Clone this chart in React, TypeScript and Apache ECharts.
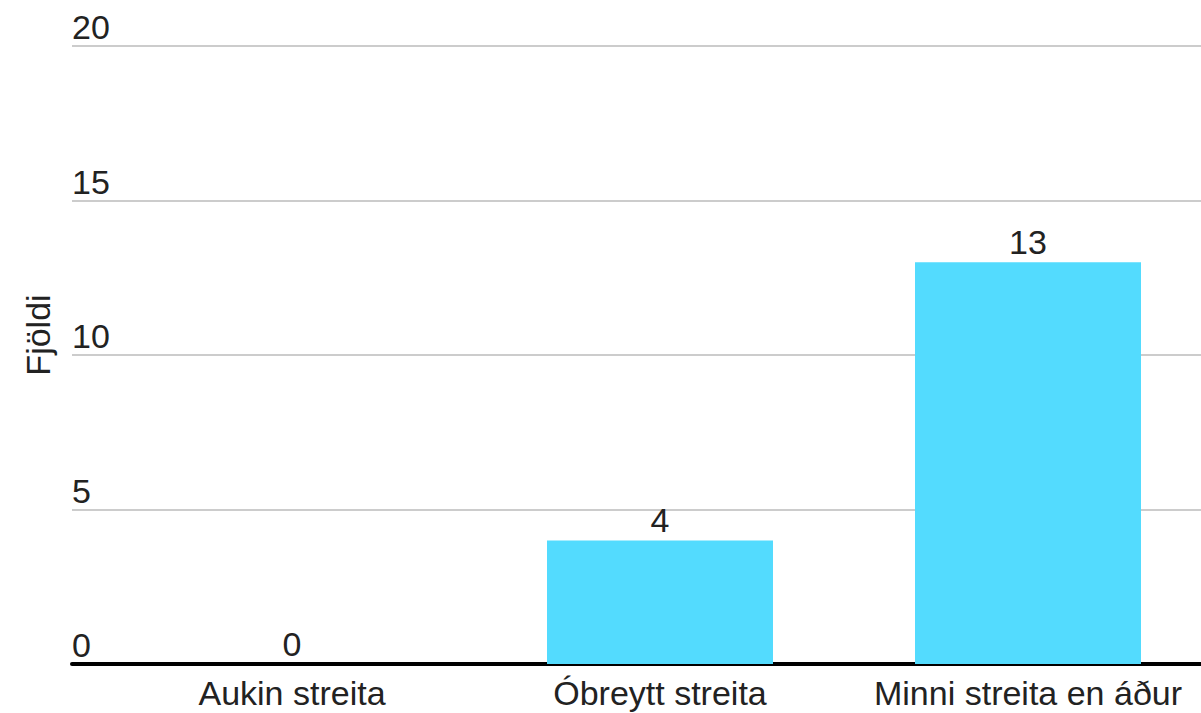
import React, { useEffect, useRef } from "react";
import * as echarts from "echarts";

const categories = ["Aukin streita", "Óbreytt streita", "Minni streita en áður"];
const values = [0, 4, 13];
const yMin = 0;
const yMax = 20;
const yInterval = 5;
const yAxisTitle = "Fjöldi";

const FONT = "'Liberation Sans', Arial, sans-serif";
const FS = 34;

export default function App() {
  const ref = useRef<HTMLDivElement>(null);
  useEffect(() => {
    if (!ref.current) return;
    const chart = echarts.init(ref.current, null, { renderer: "svg" });
    chart.setOption({
      animation: false,
      backgroundColor: "#ffffff",
      textStyle: { fontFamily: FONT },
      grid: [
        { left: 72, width: 1129, top: 46, height: 618 },
        { left: 108, width: 1104, top: 46, height: 618 },
      ],
      xAxis: [
        {
          type: "category",
          gridIndex: 0,
          data: [""],
          offset: 2,
          axisLine: { show: true, lineStyle: { color: "#000000", width: 4 } },
          axisTick: { show: false },
          axisLabel: { show: false },
          splitLine: { show: false },
        },
        {
          type: "category",
          gridIndex: 1,
          data: categories,
          axisLine: { show: false },
          axisTick: { show: false },
          axisLabel: {
            interval: 0,
            color: "#222222",
            fontSize: FS,
            fontFamily: FONT,
            margin: 12,
          },
        },
      ],
      yAxis: [
        {
          type: "value",
          gridIndex: 0,
          min: yMin,
          max: yMax,
          interval: yInterval,
          axisLine: { show: false },
          axisTick: { show: false },
          splitLine: { show: true, lineStyle: { color: "#cccccc", width: 2 } },
          axisLabel: {
            inside: true,
            margin: 0,
            color: "#222222",
            fontSize: FS,
            fontFamily: FONT,
            align: "left",
            verticalAlign: "bottom",
            padding: [0, 0, 2, 0],
          },
        },
        {
          type: "value",
          gridIndex: 1,
          min: yMin,
          max: yMax,
          interval: yInterval,
          show: false,
          splitLine: { show: false },
        },
      ],
      graphic: [
        {
          type: "text",
          x: 38,
          y: 335,
          rotation: Math.PI / 2,
          style: {
            text: yAxisTitle,
            fill: "#222222",
            font: `${FS}px ${FONT}`,
            textAlign: "center",
            textVerticalAlign: "middle",
          },
        },
      ],
      series: [
        {
          type: "bar",
          xAxisIndex: 1,
          yAxisIndex: 1,
          data: values,
          barWidth: 226,
          itemStyle: { color: "#53dbfe" },
          label: {
            show: true,
            position: "top",
            distance: 3,
            color: "#222222",
            fontSize: FS,
            fontFamily: FONT,
          },
          z: 1,
        },
      ],
    });
    return () => chart.dispose();
  }, []);
  return (
    <div
      style={{
        position: "fixed",
        left: 0,
        top: 0,
        width: 1201,
        height: 713,
        overflow: "hidden",
        background: "#ffffff",
      }}
    >
      <div ref={ref} style={{ width: 1220, height: 713 }} />
    </div>
  );
}
